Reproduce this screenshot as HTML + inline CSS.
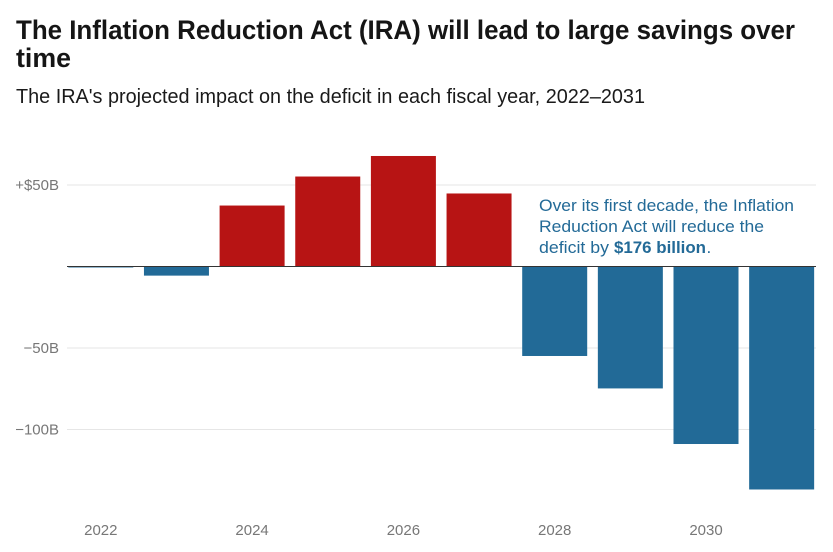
<!DOCTYPE html>
<html lang="en">
<head>
<meta charset="utf-8">
<title>The Inflation Reduction Act will lead to large savings over time</title>
<style>
  html, body { margin: 0; padding: 0; background: #fff; }
  body { width: 833px; height: 552px; overflow: hidden; }
  svg { display: block; font-family: "Liberation Sans", sans-serif; }
  .title { font-size: 27px; font-weight: 700; fill: #151515; }
  .subtitle { font-size: 20.5px; fill: #1a1a1a; }
  .tick { font-size: 15px; fill: #777; }
  .note { font-size: 17px; fill: #236a97; }
</style>
</head>
<body>
<svg id="chart" width="833" height="552" viewBox="0 0 833 552" xmlns="http://www.w3.org/2000/svg">
  <text class="title" x="16" y="39" textLength="779" lengthAdjust="spacingAndGlyphs">The Inflation Reduction Act (IRA) will lead to large savings over</text>
  <text class="title" x="16" y="67" textLength="55" lengthAdjust="spacingAndGlyphs">time</text>
  <text class="subtitle" x="16" y="103" textLength="629" lengthAdjust="spacingAndGlyphs">The IRA's projected impact on the deficit in each fiscal year, 2022–2031</text>
  <g id="grid"></g>
  <g id="y-labels"></g>
  <g id="bars"></g>
  <g id="baseline"></g>
  <g id="x-labels"></g>
  <g>
    <text class="note" x="539" y="211" textLength="255" lengthAdjust="spacingAndGlyphs">Over its first decade, the Inflation</text>
    <text class="note" x="539" y="232" textLength="225" lengthAdjust="spacingAndGlyphs">Reduction Act will reduce the</text>
    <text class="note" x="539" y="253" textLength="70" lengthAdjust="spacingAndGlyphs">deficit by</text>
    <text class="note" x="614" y="253" font-weight="700" textLength="92" lengthAdjust="spacingAndGlyphs">$176 billion</text>
    <text class="note" x="706.5" y="253">.</text>
  </g>
</svg>
<script>
const categories = ["2022","2023","2024","2025","2026","2027","2028","2029","2030","2031"];
const deficitImpact = [-0.6,-5.6,37.4,55.2,67.8,44.8,-54.9,-74.8,-108.9,-136.8];
const yTickValues = [50,-50,-100];
const yTickLabels = ["+$50B","\u221250B","\u2212100B"];
const xTickLabels = ["2022","2024","2026","2028","2030"];

const NS = "http://www.w3.org/2000/svg";
const plot = { left: 67, right: 816, firstBand: 68.3, step: 75.65, bandWidth: 65, zeroY: 266.5, pxPerUnit: 1.63 };
function yScale(v) { return plot.zeroY - v * plot.pxPerUnit; }
function xBand(category) { return plot.firstBand + categories.indexOf(category) * plot.step; }
function make(tag, attrs) {
  const el = document.createElementNS(NS, tag);
  for (const k in attrs) el.setAttribute(k, attrs[k]);
  return el;
}

const gridG = document.getElementById("grid");
const yG = document.getElementById("y-labels");
yTickValues.forEach(function (v, i) {
  const line = make("line", { x1: plot.left, x2: plot.right, y1: yScale(v), y2: yScale(v), stroke: "#e6e6e6", "stroke-width": 1 });
  
  
  gridG.appendChild(line);
  const t = make("text", { x: 59, y: yScale(v) + 5, "text-anchor": "end", class: "tick" });
  
  
  t.textContent = yTickLabels[i];
  yG.appendChild(t);
});

const barsG = document.getElementById("bars");
categories.forEach(function (c, i) {
  const v = deficitImpact[i];
  const top = yScale(Math.max(v, 0));
  const bottom = yScale(Math.min(v, 0));
  const r = make("rect", { x: xBand(c), y: top, width: plot.bandWidth, height: bottom - top, fill: v >= 0 ? "#b71414" : "#226a97" });
  
  
  const tip = make("title", {});
  tip.textContent = c + ": " + v + "B";
  r.appendChild(tip);
  barsG.appendChild(r);
});

const zero = make("line", { x1: plot.left, x2: plot.right, y1: yScale(0), y2: yScale(0), stroke: "#333", "stroke-width": 1 });


document.getElementById("baseline").appendChild(zero);

const xG = document.getElementById("x-labels");
xTickLabels.forEach(function (c) {
  const t = make("text", { x: xBand(c) + plot.bandWidth / 2, y: 535, "text-anchor": "middle", class: "tick" });
  
  
  t.textContent = c;
  xG.appendChild(t);
});
</script>
</body>
</html>
